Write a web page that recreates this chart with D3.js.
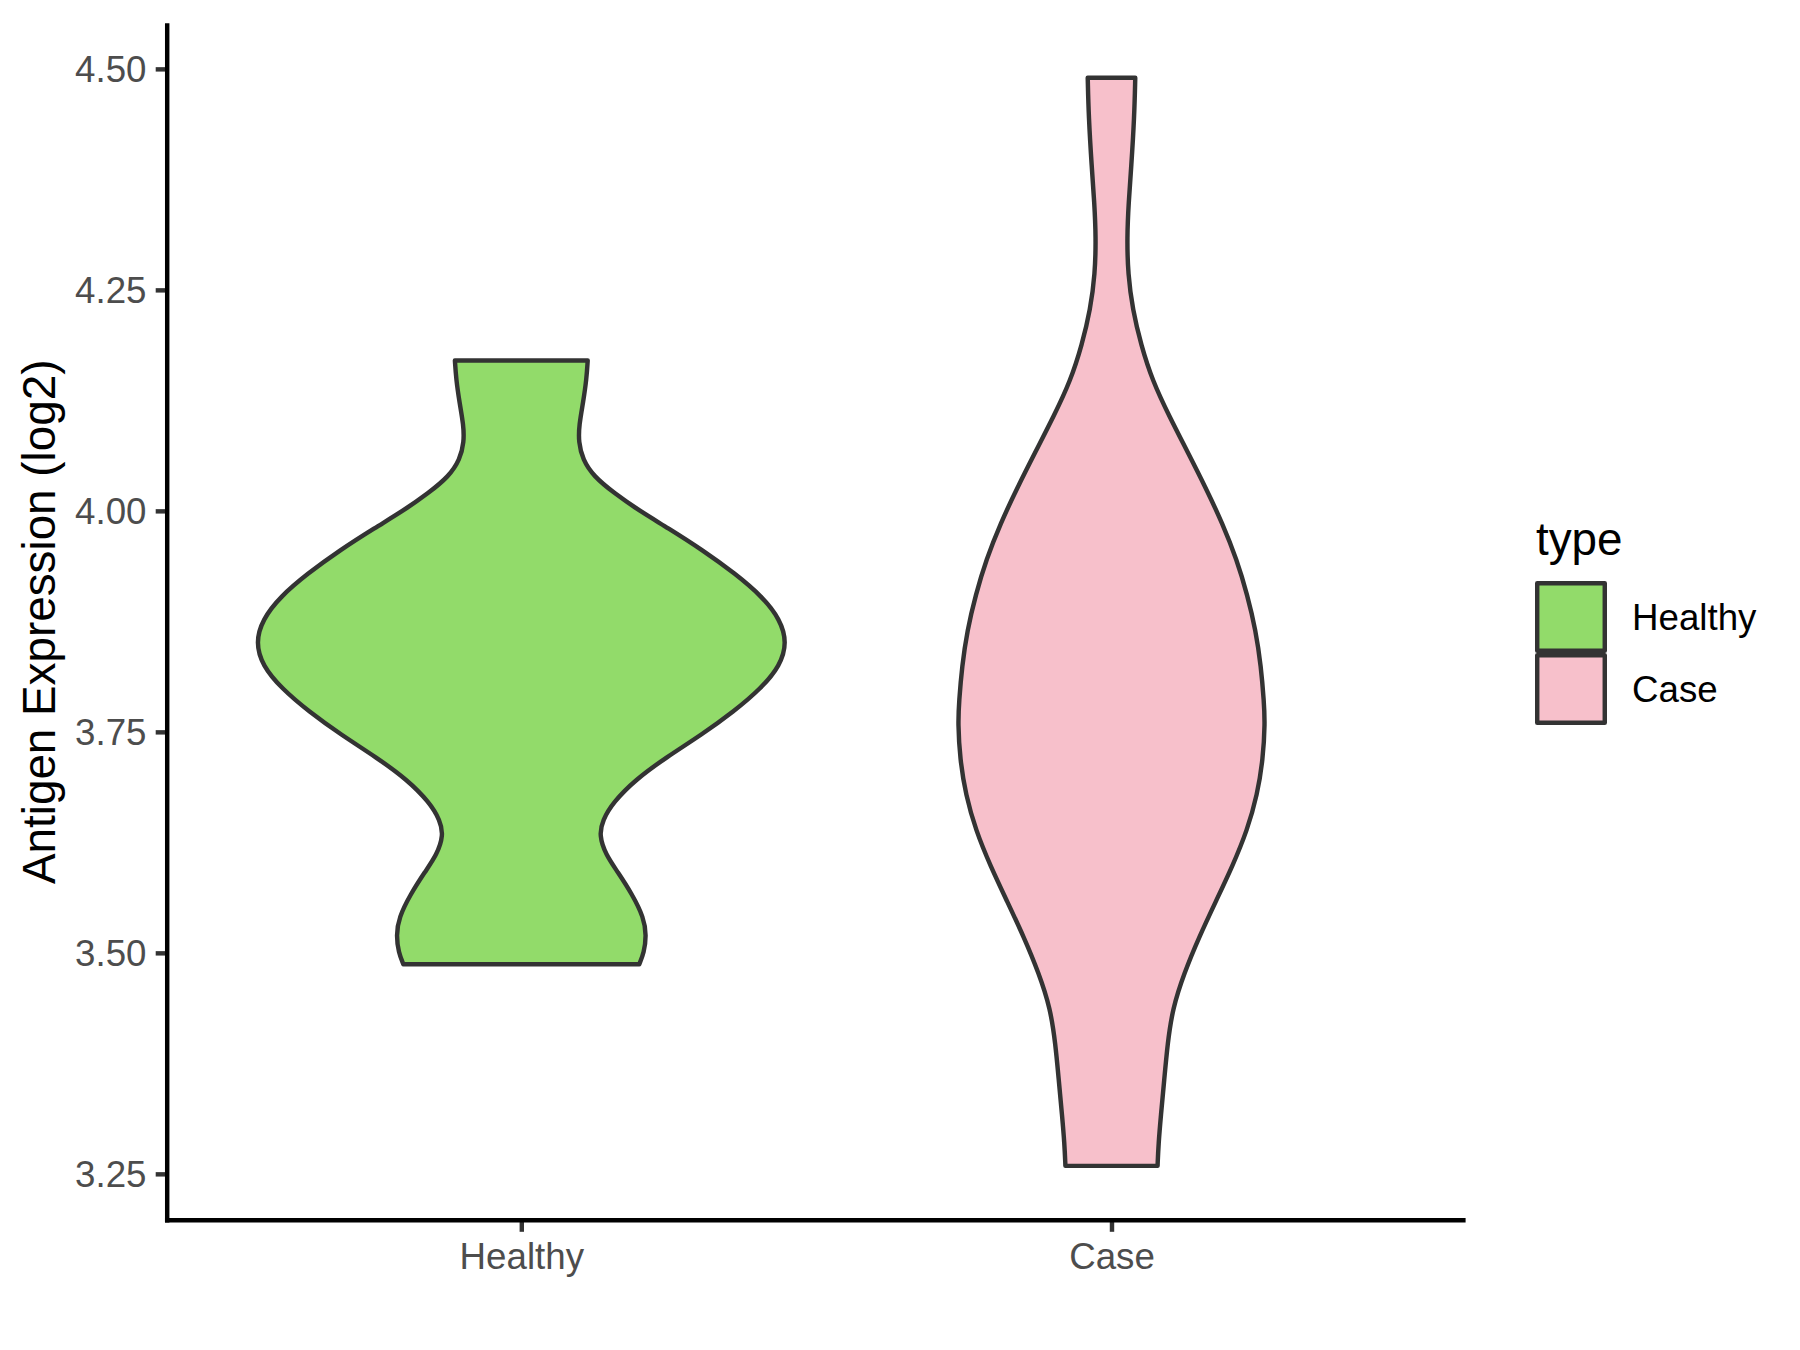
<!DOCTYPE html>
<html>
<head>
<meta charset="utf-8">
<script src="https://cdn.jsdelivr.net/npm/d3@7"></script>
<style>
  html, body { margin: 0; padding: 0; background: #ffffff; }
  svg { display: block; font-family: "Liberation Sans", Arial, sans-serif; }
</style>
</head>
<body>
<svg id="chart" width="1800" height="1350"></svg>
<script>
// ---- data ----
const categories = ["Healthy", "Case"];
const fillColors = ["#92DB6A", "#F7C0CB"];

// density profile of each violin: expression value (log2) and relative density
const healthyValues = [4.170, 4.149, 4.123, 4.097, 4.078, 4.058, 4.039, 4.020, 4.000, 3.981,
  3.955, 3.929, 3.903, 3.877, 3.851, 3.825, 3.799, 3.773, 3.747, 3.721, 3.696, 3.670, 3.650,
  3.633, 3.611, 3.592, 3.566, 3.540, 3.520, 3.500, 3.487];
const healthyDensity = [0.500, 0.491, 0.466, 0.435, 0.431, 0.462, 0.545, 0.700, 0.890, 1.100,
  1.371, 1.610, 1.815, 1.950, 2.000, 1.950, 1.805, 1.600, 1.360, 1.090, 0.860, 0.690, 0.612,
  0.586, 0.636, 0.724, 0.836, 0.922, 0.942, 0.924, 0.888];

const caseValues = [4.490, 4.446, 4.389, 4.349, 4.309, 4.268, 4.228, 4.188, 4.147, 4.107,
  4.067, 4.026, 3.986, 3.945, 3.905, 3.865, 3.824, 3.784, 3.760, 3.719, 3.679, 3.639, 3.598,
  3.558, 3.518, 3.477, 3.437, 3.397, 3.356, 3.316, 3.284, 3.259];
const caseDensity = [0.179, 0.172, 0.149, 0.129, 0.117, 0.124, 0.159, 0.222, 0.309, 0.435,
  0.572, 0.710, 0.835, 0.943, 1.023, 1.086, 1.126, 1.148, 1.156, 1.141, 1.098, 1.023, 0.911,
  0.785, 0.660, 0.547, 0.460, 0.422, 0.397, 0.372, 0.354, 0.347];

const yTicks = [3.25, 3.50, 3.75, 4.00, 4.25, 4.50];
const yTitle = "Antigen Expression (log2)";
const legendTitle = "type";

// ---- layout ----
const panel = { left: 167.2, right: 1465.6, top: 23.3, bottom: 1220.3 };
const lineW = 4.44;
const tickLen = 11.5;
const tickFont = 36.7;
const titleFont = 45.8;
const outline = "#333333";

const svg = d3.select("#chart");

const groups = [
  { name: categories[0], values: healthyValues, density: healthyDensity, fill: fillColors[0] },
  { name: categories[1], values: caseValues, density: caseDensity, fill: fillColors[1] }
];

const allValues = healthyValues.concat(caseValues);
const vMin = d3.min(allValues), vMax = d3.max(allValues);
const pad = (vMax - vMin) * 0.05;

const y = d3.scaleLinear().domain([vMin - pad, vMax + pad]).range([panel.bottom, panel.top]);
const x = d3.scalePoint().domain(categories).range([panel.left, panel.right]).padding(0.6);
const step = x.step();

const maxDens = d3.max(healthyDensity.concat(caseDensity));
const w = d3.scaleLinear().domain([0, maxDens]).range([0, 0.45 * step]);

// ---- violins ----
groups.forEach(g => {
  const pts = g.values.map((v, i) => ({ v: v, d: g.density[i] }));
  const cx = x(g.name);
  const area = d3.area()
    .y(p => y(p.v))
    .x0(p => cx - w(p.d))
    .x1(p => cx + w(p.d))
    .curve(d3.curveBasis);
  svg.append("path")
    .attr("d", area(pts))
    .attr("fill", g.fill)
    .attr("stroke", outline)
    .attr("stroke-width", lineW)
    .attr("stroke-linejoin", "round");
});

// ---- axes ----
const yAxis = d3.axisLeft(y).tickValues(yTicks).tickFormat(d3.format(".2f"))
  .tickSize(tickLen).tickPadding(9.2);
const gy = svg.append("g").attr("transform", `translate(${panel.left},0)`).call(yAxis);
gy.select(".domain").remove();
gy.selectAll(".tick line").attr("stroke", outline).attr("stroke-width", lineW);
gy.selectAll(".tick text").attr("fill", "#4D4D4D").attr("font-size", tickFont)
  .attr("font-family", "Liberation Sans, Arial, sans-serif").attr("dy", "0.35em");

const xAxis = d3.axisBottom(x).tickSize(tickLen).tickPadding(9.2);
const gx = svg.append("g").attr("transform", `translate(0,${panel.bottom})`).call(xAxis);
gx.select(".domain").remove();
gx.selectAll(".tick line").attr("stroke", outline).attr("stroke-width", lineW);
gx.selectAll(".tick text").attr("fill", "#4D4D4D").attr("font-size", tickFont)
  .attr("font-family", "Liberation Sans, Arial, sans-serif").attr("dy", "0.75em");

// axis lines
svg.append("line").attr("x1", panel.left).attr("x2", panel.left)
  .attr("y1", panel.top).attr("y2", panel.bottom + lineW / 2)
  .attr("stroke", "#000").attr("stroke-width", lineW);
svg.append("line").attr("x1", panel.left - lineW / 2).attr("x2", panel.right)
  .attr("y1", panel.bottom).attr("y2", panel.bottom)
  .attr("stroke", "#000").attr("stroke-width", lineW);

// y title
svg.append("text")
  .attr("transform", `translate(55,${(panel.top + panel.bottom) / 2}) rotate(-90)`)
  .attr("text-anchor", "middle")
  .attr("font-size", titleFont)
  .attr("fill", "#000")
  .text(yTitle);

// ---- legend ----
const legend = svg.append("g");
legend.append("text").attr("x", 1536).attr("y", 555)
  .attr("font-size", titleFont).attr("fill", "#000").text(legendTitle);
const keySize = 72;
const keyTop = 581;
groups.forEach((g, i) => {
  const ky = keyTop + i * keySize;
  legend.append("rect")
    .attr("x", 1535 + lineW / 2).attr("y", ky + lineW / 2)
    .attr("width", keySize - lineW).attr("height", keySize - lineW)
    .attr("fill", g.fill).attr("stroke", outline).attr("stroke-width", lineW)
    .attr("stroke-linejoin", "round");
  legend.append("text").attr("x", 1632).attr("y", ky + keySize / 2)
    .attr("dy", "0.35em").attr("font-size", tickFont).attr("fill", "#000").text(g.name);
});
</script>
</body>
</html>
